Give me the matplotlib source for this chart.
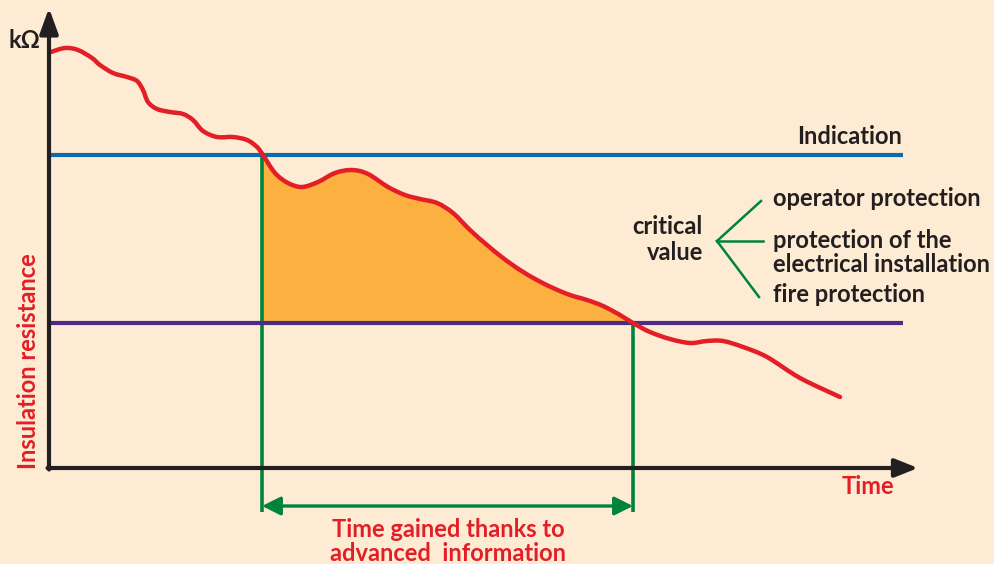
import matplotlib
matplotlib.use("Agg")
import matplotlib.pyplot as plt
import numpy as np
from matplotlib.path import Path
from matplotlib.patches import PathPatch

# ---- data (time, insulation resistance; arbitrary units) ----
time = [0.2, 1.6, 2.9, 4.3, 5.1, 6.4, 7.8, 8.8, 9.4, 9.9, 10.8, 12.1, 13.4, 14.4,
        15.4, 16.8, 18.4, 19.8, 20.8, 21.4, 22.6, 23.9, 25.3, 26.9, 28.6, 30.3,
        31.9, 33.9, 35.6, 37.1, 38.8, 40.4, 42.1, 43.8, 45.4, 47.1, 48.8, 50.4,
        52.1, 53.8, 55.4, 57.1, 58.4, 60.1, 62.1, 64.1, 65.8, 67.4, 69.4, 71.8,
        75.1, 79.1]
resistance = [41.6, 42.0, 41.8, 41.0, 40.3, 39.5, 39.1, 38.7, 37.8, 36.6, 35.9,
              35.6, 35.4, 34.8, 33.7, 33.1, 33.1, 32.8, 32.1, 31.3, 29.5, 28.5,
              28.1, 28.6, 29.5, 29.8, 29.4, 28.1, 27.3, 26.9, 26.5, 25.5, 23.8,
              22.3, 21.0, 19.8, 18.8, 18.0, 17.3, 16.8, 16.2, 15.3, 14.5, 13.6,
              12.9, 12.5, 12.7, 12.7, 12.1, 11.1, 9.0, 7.1]
indication_level = 31.3
critical_level = 14.5
t_indication = 21.3
t_critical = 58.4
t_end = 85.4

critical_labels = ["operator protection", "protection of the",
                   "electrical installation", "fire protection"]

# ---- style ----
BG = "#fdebd3"
RED = "#e31e26"
ORANGE = "#fbb040"
BLUE = "#0b6bad"
PURPLE = "#4b2c86"
GREEN = "#00843d"
DARK = "#231f20"
FONT = ["Lato", "DejaVu Sans"]
FS = 17

fig = plt.figure(figsize=(9.95, 5.64), dpi=100, facecolor=BG)
ax = fig.add_axes([0, 0, 1, 1])
ax.set_facecolor(BG)
ax.set_xlim(-4.9, 94.6)
ax.set_ylim(-9.6, 46.8)
ax.axis("off")

t = np.array(time)
r = np.array(resistance)
P = np.column_stack([t, r])
n = len(P)

# smooth Bezier path through the read points (Catmull-Rom tangents)
verts = [P[0]]
codes = [Path.MOVETO]
for i in range(n - 1):
    p0 = P[i - 1] if i > 0 else P[i]
    p1, p2 = P[i], P[i + 1]
    p3 = P[i + 2] if i + 2 < n else P[i + 1]
    verts += [p1 + (p2 - p0) / 6.0, p2 - (p3 - p1) / 6.0, p2]
    codes += [Path.CURVE4] * 3

# shaded region between indication crossing and critical crossing
i0 = int(np.argmin(np.abs(t - t_indication)))
i1 = int(np.argmin(np.abs(t - t_critical)))
fv = [verts[3 * i0]] + verts[3 * i0 + 1: 3 * i1 + 1]
fc = [Path.MOVETO] + [Path.CURVE4] * (3 * (i1 - i0))
fv += [(t_indication, critical_level), (t_indication, indication_level), (0, 0)]
fc += [Path.LINETO, Path.LINETO, Path.CLOSEPOLY]
ax.add_patch(PathPatch(Path(fv, fc), facecolor=ORANGE, edgecolor="none", zorder=1))

# threshold lines
ax.plot([0, t_end], [indication_level, indication_level], color=BLUE, lw=3, zorder=3,
        solid_capstyle="butt")
ax.plot([0, t_end], [critical_level, critical_level], color=PURPLE, lw=3, zorder=3,
        solid_capstyle="butt")

# green verticals and double arrow
ax.plot([t_indication, t_indication], [indication_level, -4.4], color=GREEN, lw=2.6,
        zorder=2, solid_capstyle="butt")
ax.plot([t_critical, t_critical], [critical_level, -4.4], color=GREEN, lw=2.6,
        zorder=2, solid_capstyle="butt")
ax.annotate("", xy=(t_critical, -3.8), xytext=(t_indication, -3.8),
            arrowprops=dict(arrowstyle="<|-|>,head_length=0.8,head_width=0.4",
                            color=GREEN, lw=2.4, shrinkA=0, shrinkB=0,
                            mutation_scale=14), zorder=2)

# resistance curve
ax.add_patch(PathPatch(Path(verts, codes), facecolor="none", edgecolor=RED, lw=3.2,
                       capstyle="round", joinstyle="round", zorder=4))

# axes arrows
ax.annotate("", xy=(0, 46.0), xytext=(0, -0.15),
            arrowprops=dict(arrowstyle="-|>,head_length=1.1,head_width=0.4",
                            color=DARK, lw=3, shrinkA=0, shrinkB=0,
                            mutation_scale=14), zorder=5)
ax.annotate("", xy=(86.9, 0), xytext=(-0.15, 0),
            arrowprops=dict(arrowstyle="-|>,head_length=1.0,head_width=0.4",
                            color=DARK, lw=3, shrinkA=0, shrinkB=0,
                            mutation_scale=14), zorder=5)

# fan lines
apex = (66.8, 22.7)
for ex, ey in [(71.2, 26.7), (71.4, 22.7), (71.0, 17.1)]:
    ax.plot([apex[0], ex], [apex[1], ey], color=GREEN, lw=1.8, zorder=3)

# texts
ax.text(-4.1, 42.8, "kΩ", color=DARK, fontsize=FS, fontweight="bold",
        family=FONT, ha="left", va="center")
ax.text(85.3, 33.2, "Indication", color=DARK, fontsize=FS, fontweight="bold",
        family=FONT, ha="right", va="center")
ax.text(65.4, 24.1, "critical", color=DARK, fontsize=FS, fontweight="bold",
        family=FONT, ha="right", va="center")
ax.text(65.4, 21.6, "value", color=DARK, fontsize=FS, fontweight="bold",
        family=FONT, ha="right", va="center")
for label, y in zip(critical_labels, [26.9, 22.8, 20.4, 17.4]):
    ax.text(72.4, y, label, color=DARK, fontsize=FS, fontweight="bold",
            family=FONT, ha="left", va="center")
ax.text(-2.0, 10.7, "Insulation resistance", color=RED, fontsize=FS,
        fontweight="bold", family=FONT, rotation=90, ha="center", va="center")
ax.text(81.9, -1.8, "Time", color=RED, fontsize=FS, fontweight="bold",
        family=FONT, ha="center", va="center")
ax.text(39.9, -6.15, "Time gained thanks to", color=RED, fontsize=FS,
        fontweight="bold", family=FONT, ha="center", va="center")
ax.text(39.9, -8.55, "advanced  information", color=RED, fontsize=FS,
        fontweight="bold", family=FONT, ha="center", va="center")

fig.savefig("out.png", dpi=100, facecolor=BG)
